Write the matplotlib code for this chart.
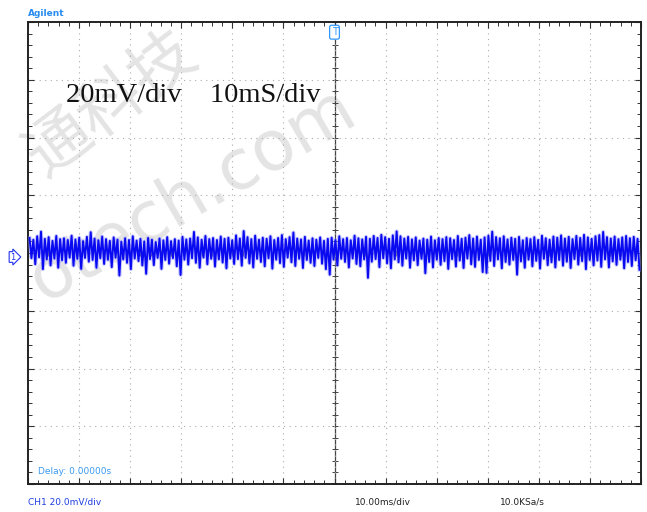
import numpy as np
import matplotlib.pyplot as plt

# trace envelope, mV, read column by column (about 0.75 ms per column)
trace_hi = [5.2, 4.6, 5.8, 7.4, 4.9, 5.5, 4.2, 5.9, 4.8, 5.1,
            4.5, 6.0, 4.7, 5.3, 4.1, 5.6, 7.2, 5.0, 4.4, 5.7,
            4.8, 4.2, 5.4, 4.6, 3.9, 5.1, 4.5, 5.8, 4.3, 4.9,
            4.0, 5.2, 4.6, 3.8, 5.0, 4.4, 5.5, 4.1, 4.8, 4.3,
            5.6, 4.7, 5.0, 7.3, 5.4, 4.6, 5.9, 4.8, 5.2, 4.5,
            5.7, 4.9, 5.3, 4.4, 6.1, 5.0, 7.6, 5.5, 4.8, 6.0,
            4.6, 5.3, 4.9, 5.8, 4.5, 5.2, 6.2, 4.8, 5.5, 7.1,
            5.0, 4.7, 5.6, 4.3, 5.1, 4.6, 5.4, 4.2, 4.9, 5.3,
            4.5, 5.8, 4.8, 5.2, 4.4, 6.0, 5.1, 4.7, 5.6, 4.9,
            5.9, 5.2, 6.3, 5.5, 4.9, 6.1, 7.5, 5.8, 5.0, 5.6,
            4.7, 5.4, 4.3, 5.0, 4.6, 5.7, 4.4, 5.2, 4.8, 5.5,
            5.1, 4.5, 5.9, 4.9, 5.3, 6.2, 5.0, 5.7, 4.6, 5.4,
            6.0, 7.4, 5.5, 5.1, 5.8, 4.7, 5.3, 4.9, 5.6, 4.4,
            5.2, 4.8, 5.5, 4.5, 6.0, 5.1, 4.6, 5.7, 5.3, 6.1,
            5.0, 5.6, 4.8, 5.9, 5.2, 6.3, 5.4, 4.9, 5.8, 6.2,
            7.3, 5.5, 5.0, 5.7, 4.8, 5.4, 5.9, 5.1, 5.6, 4.9]
trace_lo = [-1.8, -3.9, -1.5, -5.6, -2.2, -4.3, -1.9, -5.1, -2.5, -3.4,
            -1.6, -4.4, -2.0, -5.5, -1.7, -3.0, -2.4, -5.1, -1.8, -3.8,
            -2.3, -4.9, -1.6, -7.8, -2.2, -3.4, -5.6, -1.9, -2.8, -4.3,
            -7.2, -2.1, -4.2, -1.7, -5.5, -2.4, -3.7, -1.8, -4.6, -7.6,
            -2.3, -4.0, -1.8, -3.4, -5.1, -1.6, -3.9, -2.0, -4.7, -2.2,
            -3.3, -5.3, -1.9, -3.8, -2.1, -4.4, -1.7, -3.6, -5.0, -2.0,
            -3.1, -4.6, -1.8, -5.4, -2.3, -3.5, -4.8, -1.6, -3.2, -4.5,
            -2.0, -5.2, -2.4, -3.4, -4.5, -1.7, -3.7, -5.6, -7.5, -2.3,
            -4.3, -2.0, -3.1, -5.0, -1.9, -3.8, -4.6, -2.2, -8.6, -3.0,
            -2.1, -4.9, -1.8, -3.6, -5.3, -2.2, -3.2, -4.4, -1.9, -5.1,
            -2.5, -4.2, -2.0, -7.0, -3.1, -5.0, -2.3, -4.1, -2.8, -5.5,
            -2.1, -4.7, -2.6, -5.2, -1.9, -3.9, -4.8, -2.4, -6.6, -6.9,
            -2.7, -4.5, -2.2, -5.3, -3.1, -4.0, -2.4, -7.5, -2.9, -5.1,
            -2.3, -4.6, -2.7, -5.4, -2.0, -4.2, -3.2, -5.0, -2.4, -4.4,
            -3.0, -5.2, -2.1, -4.0, -2.8, -5.6, -2.4, -4.3, -2.6, -4.8,
            -2.2, -5.0, -2.9, -4.1, -2.3, -5.3, -3.1, -4.5, -2.5, -5.8]

volts_per_div = 20    # mV
time_per_div = 10     # ms
n_hdiv, n_vdiv = 12, 8

W, H = 647, 512
fig = plt.figure(figsize=(W / 100, H / 100), dpi=100)
ax = fig.add_axes([28 / W, 28 / H, 613 / W, 462 / H])

tmax = n_hdiv / 2 * time_per_div
vmax = n_vdiv / 2 * volts_per_div
ax.set_xlim(-tmax, tmax)
ax.set_ylim(-vmax, vmax)

# watermark behind everything
ax.text(112 / W, 1 - 104 / H, "通科技", transform=fig.transFigure, rotation=37,
        fontsize=47, color="#e4e4e4", family=["Noto Sans CJK SC"],
        ha="center", va="center", zorder=0, clip_on=False)
ax.text(192 / W, 1 - 195 / H, "otech.com", transform=fig.transFigure, rotation=30,
        fontsize=50, color="#e4e4e4", family=["DejaVu Sans"],
        ha="center", va="center", zorder=0, clip_on=False)

# graticule
ax.set_xticks(np.arange(-tmax, tmax + 1, time_per_div))
ax.set_yticks(np.arange(-vmax, vmax + 1, volts_per_div))
ax.set_xticks(np.arange(-tmax, tmax + 1, time_per_div / 5), minor=True)
ax.set_yticks(np.arange(-vmax, vmax + 1, volts_per_div / 5), minor=True)
ax.grid(True, which="major", color="#ababab", linestyle=(0, (1, 4)), linewidth=0.8)
ax.tick_params(which="both", direction="in", top=True, right=True,
               labelbottom=False, labelleft=False, color="#333333")
ax.tick_params(which="major", length=4, width=0.8)
ax.tick_params(which="minor", length=3, width=0.7)
for s in ax.spines.values():
    s.set_linewidth(1.4)
    s.set_color("#222222")

ax.axvline(0, color="#444444", lw=0.9, zorder=1)
mx = np.arange(-tmax, tmax + 1, time_per_div / 5)
my = np.arange(-vmax, vmax + 1, volts_per_div / 5)
ax.plot(mx, np.zeros_like(mx), ls="none", marker="|", ms=5, color="#555555", mew=0.7, zorder=1)
ax.plot(np.zeros_like(my), my, ls="none", marker="_", ms=5, color="#444444", mew=0.7, zorder=1)

# trace: zigzag between the upper and lower peaks of each column
hi = np.array(trace_hi)
lo = np.array(trace_lo)
y = np.empty(hi.size * 2)
y[0::2] = hi
y[1::2] = lo
x = np.linspace(-tmax + 0.3, tmax - 0.3, y.size)
ax.plot(x, y, color="#8c8cff", lw=2.8, alpha=0.45, zorder=3)
ax.plot(x, y, color="#0a0af0", lw=1.4, zorder=4)

# markers
ax.text(0, vmax - 1.8, "T", ha="center", va="top", fontsize=7, color="#3399ff",
        bbox=dict(boxstyle="round,pad=0.2", fc="white", ec="#3399ff", lw=0.9), zorder=5)
fig.text(10 / W, 1 - 257 / H, "1", ha="left", va="center", fontsize=6, color="#2233ee",
         bbox=dict(boxstyle="rarrow,pad=0.1", fc="white", ec="#2233ee", lw=0.8))

ax.text(66 / W, 1 - 102 / H, "20mV/div    10mS/div", transform=fig.transFigure,
        fontsize=20.5, family=["Liberation Serif"], color="#111111",
        ha="left", va="baseline", zorder=6)

small = ["Liberation Sans Narrow", "DejaVu Sans"]
fig.text(28 / W, 1 - 13 / H, "Agilent", fontsize=6.5, weight="bold", color="#2a8cf0",
         family=small, va="center")
ax.text(38 / W, 1 - 471 / H, "Delay: 0.00000s", transform=fig.transFigure, fontsize=6.5,
        color="#3a9af2", family=small, va="center", zorder=6)
fig.text(28 / W, 1 - 502 / H, "CH1 20.0mV/div", fontsize=6.5, color="#1f3fe0",
         family=small, va="center")
fig.text(355 / W, 1 - 502 / H, "10.00ms/div", fontsize=6.5, color="#222222",
         family=small, va="center")
fig.text(500 / W, 1 - 502 / H, "10.0KSa/s", fontsize=6.5, color="#222222",
         family=small, va="center")

fig.savefig("out.png", dpi=100)
